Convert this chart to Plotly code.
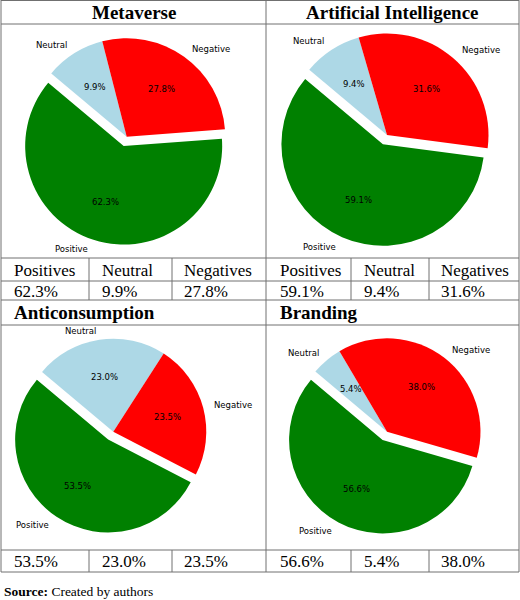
import math
import plotly.graph_objects as go

# ---------------- data ----------------
topics = ["Metaverse", "Artificial Intelligence", "Anticonsumption", "Branding"]
categories = ["Positive", "Neutral", "Negative"]
table_headers = ["Positives", "Neutral", "Negatives"]
metaverse = [62.3, 9.9, 27.8]
artificial_intelligence = [59.1, 9.4, 31.6]
anticonsumption = [53.5, 23.0, 23.5]
branding = [56.6, 5.4, 38.0]
series = [metaverse, artificial_intelligence, anticonsumption, branding]
source_note = ("Source:", "Created by authors")

# ---------------- layout constants ----------------
W, H = 520, 600
colors = {"Positive": "#008000", "Neutral": "#add8e6", "Negative": "#ff0000"}
explode = {"Positive": 0.1, "Neutral": 0.0, "Negative": 0.0}
START = 140  # degrees, counter-clockwise from 3 o'clock
# pie centre (px) and radius (px)
pies = [(126.7, 136.7, 98.5), (387.0, 135.0, 101.5), (113.3, 431.7, 93.0), (387.0, 431.7, 93.5)]
LINE = "#707070"
SERIF = "Liberation Serif"
PIE_FONT = dict(family="DejaVu Sans", size=8.5, color="black")


def X(px):
    return px / W


def Y(py):
    return 1 - py / H


fig = go.Figure()
annotations = []
shapes = []

# ---------------- pies ----------------
pie_order = ["Neutral", "Negative", "Positive"]  # clockwise from START
for (cx, cy, r), vals in zip(pies, series):
    d = dict(zip(categories, vals))
    half = r * 1.1
    fig.add_trace(go.Pie(
        values=[d[c] for c in pie_order],
        labels=pie_order,
        marker=dict(colors=[colors[c] for c in pie_order], line=dict(width=0)),
        pull=[explode[c] for c in pie_order],
        sort=False,
        direction="clockwise",
        rotation=90 - START,
        textinfo="none",
        hoverinfo="skip",
        showlegend=False,
        domain=dict(x=[X(cx - half), X(cx + half)], y=[Y(cy + half), Y(cy - half)]),
    ))
    total = sum(vals)
    ang = START
    for c in ["Positive", "Negative", "Neutral"]:
        span = d[c] / total * 360
        mid = math.radians(ang + span / 2)
        ang += span
        ux, uy = math.cos(mid), -math.sin(mid)
        ex, ey = cx + explode[c] * r * ux, cy + explode[c] * r * uy
        annotations.append(dict(
            x=X(ex + 0.6 * r * ux), y=Y(ey + 0.6 * r * uy), xref="paper", yref="paper",
            text=f"{d[c]:.1f}%", showarrow=False, xanchor="center", yanchor="middle",
            font=PIE_FONT))
        annotations.append(dict(
            x=X(ex + 1.1 * r * ux), y=Y(ey + 1.1 * r * uy), xref="paper", yref="paper",
            text=c, showarrow=False, xanchor="left" if ux > 0 else "right", yanchor="middle",
            font=PIE_FONT))

# ---------------- table grid ----------------
def hline(y, x0=1, x1=519):
    shapes.append(dict(type="line", xref="paper", yref="paper", x0=X(x0), x1=X(x1),
                       y0=Y(y), y1=Y(y), line=dict(color=LINE, width=1)))


def vline(x, y0, y1):
    shapes.append(dict(type="line", xref="paper", yref="paper", x0=X(x), x1=X(x),
                       y0=Y(y0), y1=Y(y1), line=dict(color=LINE, width=1)))


for y in [0.5, 24, 258, 281, 300, 325, 550, 572]:
    hline(y)
for x in [1, 266, 519]:
    vline(x, 0, 572)
for x in [89, 172, 351, 429]:
    vline(x, 258, 300)
    vline(x, 550, 572)

# titles
title_pos = [(133.5, 12.5, "center"), (392.5, 12.5, "center"), (12, 313, "left"), (278, 313, "left")]
for (tx, ty, anc), t in zip(title_pos, topics):
    annotations.append(dict(x=X(tx), y=Y(ty), xref="paper", yref="paper", text=f"<b>{t}</b>",
                            showarrow=False, xanchor=anc, yanchor="middle",
                            font=dict(family=SERIF, size=19, color="black")))

# table texts
col_x = [[12, 100, 182], [278, 362, 439]]
for side in range(2):
    for j, h in enumerate(table_headers):
        annotations.append(dict(x=X(col_x[side][j]), y=Y(270), xref="paper", yref="paper", text=h,
                                showarrow=False, xanchor="left", yanchor="middle",
                                font=dict(family=SERIF, size=17, color="black")))
value_rows = [(metaverse, 0, 291), (artificial_intelligence, 1, 291),
              (anticonsumption, 0, 561.5), (branding, 1, 561.5)]
for vals, side, ry in value_rows:
    for j, v in enumerate(vals):
        annotations.append(dict(x=X(col_x[side][j]), y=Y(ry), xref="paper", yref="paper",
                                text=f"{v:.1f}%", showarrow=False, xanchor="left", yanchor="middle",
                                font=dict(family=SERIF, size=17, color="black")))

annotations.append(dict(x=X(2), y=Y(591), xref="paper", yref="paper",
                        text=f"<b>{source_note[0]}</b> {source_note[1]}", showarrow=False,
                        xanchor="left", yanchor="middle",
                        font=dict(family=SERIF, size=13.5, color="black")))

fig.update_layout(width=W, height=H, margin=dict(l=0, r=0, t=0, b=0),
                  paper_bgcolor="white", plot_bgcolor="white",
                  shapes=shapes, annotations=annotations)
fig.write_html("out.html")
